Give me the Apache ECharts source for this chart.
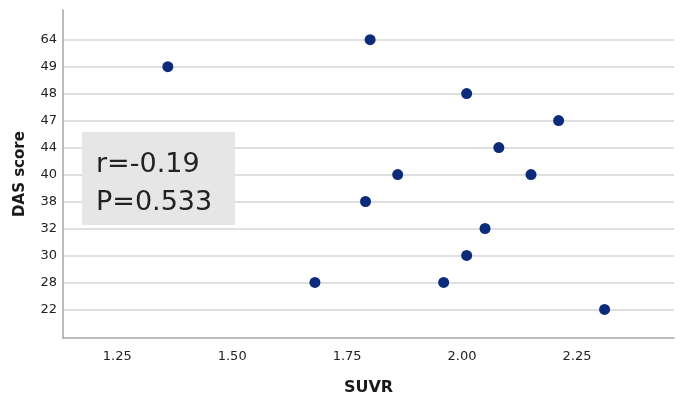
<!DOCTYPE html>
<html>
<head>
<meta charset="utf-8">
<script src="https://cdn.jsdelivr.net/npm/echarts@6/dist/echarts.min.js"></script>
<style>html,body{margin:0;padding:0;background:#fff;}#c{width:683px;height:401px;}</style>
</head>
<body>
<div id="c"></div>
<script>
// Y categories (DAS score), bottom to top
const dasCategories = ['22','28','30','32','38','40','44','47','48','49','64'];
// Points
const suvr = [1.36, 1.80, 2.01, 2.21, 2.08, 1.86, 2.15, 1.79, 2.05, 2.01, 1.68, 1.96, 2.31];
const das  = ['49','64','48','47','44','40','40','38','32','30','28','28','22'];
const xTicks = [1.25, 1.50, 1.75, 2.00, 2.25];
const statsLines = ['r=-0.19', 'P=0.533'];

const yIdx = dasCategories.map((_, i) => i);
const points = suvr.map((x, i) => [x, dasCategories.indexOf(das[i])]);

const chart = echarts.init(document.getElementById('c'));
const FONT = '"DejaVu Sans", sans-serif';
chart.setOption({
  animation: false,
  backgroundColor: '#ffffff',
  grid: { left: 63, right: 9, top: 10, bottom: 58, containLabel: false },
  xAxis: {
    type: 'value',
    min: 1.132, max: 2.461,
    name: 'SUVR',
    nameLocation: 'middle',
    nameGap: 42,
    nameTextStyle: { fontFamily: FONT, fontSize: 16, fontWeight: 'bold', color: '#1a1a1a' },
    axisLine: { show: true, onZero: false, lineStyle: { color: '#a6a6a6', width: 1.5 } },
    axisTick: { show: false },
    splitLine: { show: false },
    axisLabel: {
      customValues: xTicks,
      formatter: v => v.toFixed(2),
      fontFamily: FONT, fontSize: 13, color: '#222', margin: 12
    }
  },
  yAxis: {
    type: 'value',
    min: -1.06, max: 11.1,
    name: 'DAS score',
    nameLocation: 'middle',
    nameGap: 35,
    nameTextStyle: { fontFamily: FONT, fontSize: 15, fontWeight: 'bold', color: '#1a1a1a' },
    axisLine: { show: true, onZero: false, lineStyle: { color: '#a6a6a6', width: 1.5 } },
    axisTick: { show: false, customValues: yIdx },
    splitLine: { show: true, lineStyle: { color: '#d4d4d4', width: 1.5 } },
    axisLabel: {
      customValues: yIdx,
      formatter: v => dasCategories[Math.round(v)],
      fontFamily: FONT, fontSize: 13, color: '#222', margin: 6
    }
  },
  series: [{
    type: 'scatter',
    data: points,
    symbolSize: 11,
    itemStyle: { color: '#0c2b7a', opacity: 1 }
  }],
  graphic: [{
    type: 'group',
    left: 82, top: 132,
    z: 100,
    children: [
      { type: 'rect', z: 100, shape: { x: 0, y: 0, width: 153, height: 93 }, style: { fill: '#e6e6e6' } },
      { type: 'text', z: 101, x: 14, y: 14, style: { text: statsLines.join('\n'), font: '27px "DejaVu Sans", sans-serif', fill: '#222', lineHeight: 38 } }
    ]
  }]
});
</script>
</body>
</html>
